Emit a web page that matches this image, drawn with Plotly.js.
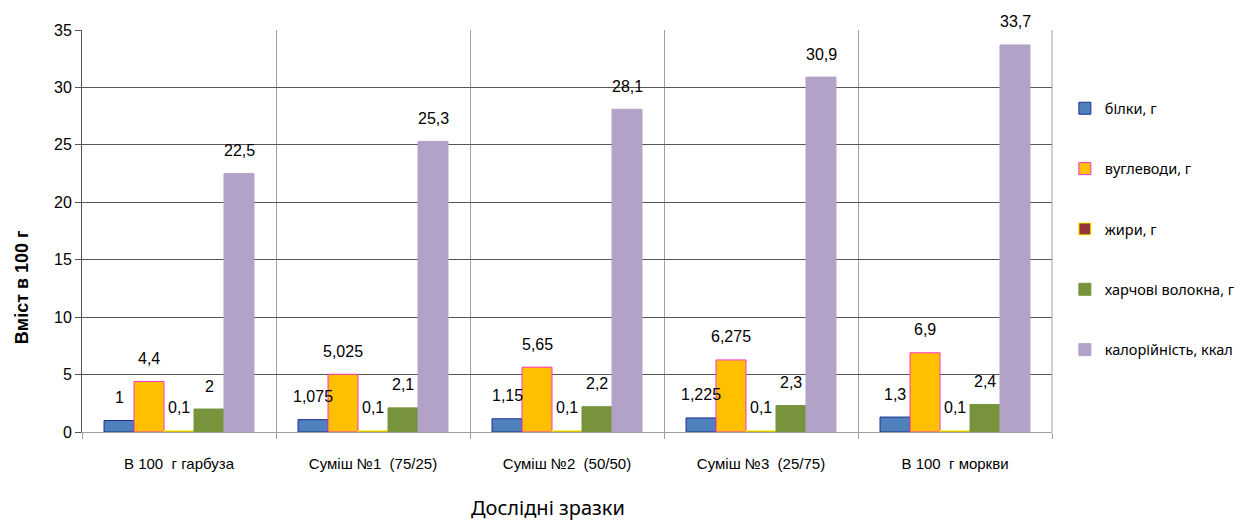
<!DOCTYPE html>
<html><head><meta charset="utf-8">
<script src="https://cdn.plot.ly/plotly-3.0.1.min.js"></script>
<style>html,body{margin:0;padding:0;background:#fff}</style>
</head><body>
<div id="chart" style="width:1244px;height:522px"></div>
<script>
const categories = ["В 100  г гарбуза", "Суміш №1  (75/25)", "Суміш №2  (50/50)", "Суміш №3  (25/75)", "В 100  г моркви"];
const seriesNames = ["білки, г", "вуглеводи, г", "жири, г", "харчові волокна, г", "калорійність, ккал"];
const bilky = [1, 1.075, 1.15, 1.225, 1.3];
const vuhlevody = [4.4, 5.025, 5.65, 6.275, 6.9];
const zhyry = [0.1, 0.1, 0.1, 0.1, 0.1];
const volokna = [2, 2.1, 2.2, 2.3, 2.4];
const kaloriinist = [22.5, 25.3, 28.1, 30.9, 33.7];
const yTicks = [0, 5, 10, 15, 20, 25, 30, 35];
const yTitle = "Вміст в 100 г";
const xTitle = "Дослідні зразки";

const seriesValues = [bilky, vuhlevody, zhyry, volokna, kaloriinist];
const fills = ["#4F81BD", "#FFC000", "#953735", "#77933C", "#B3A2C7"];
const borders = ["#1F2F8F", "#FF33CC", "#FFFF00", "#77933C", "#B3A2C7"];
const font = "Liberation Sans, Arial, sans-serif";

const traces = seriesValues.map((vals, i) => ({
  type: "bar", name: seriesNames[i], x: categories, y: vals,
  legendgroup: "g" + i,
  marker: {color: fills[i], line: {color: borders[i], width: 1}},
  hoverinfo: "none"
}));

const fmt = v => String(v).replace(".", ",");
const annotations = [];
const barPx = 30;
seriesValues.forEach((vals, i) => {
  vals.forEach((v, j) => {
    annotations.push({
      x: categories[j], y: v, xref: "x", yref: "y", text: fmt(v), showarrow: false,
      xshift: (i - 2) * barPx, yshift: 23, font: {family: font, size: 16, color: "#000"}
    });
  });
});
annotations.push({
  text: "<b>" + yTitle + "</b>", textangle: -90, xref: "paper", yref: "paper",
  x: -0.062, y: 0.36, xanchor: "center", yanchor: "middle", showarrow: false,
  font: {family: "Liberation Sans, Arial, sans-serif", size: 18, color: "#000"}
});
annotations.push({
  text: xTitle, xref: "paper", yref: "paper", x: 0.4805, y: -0.187,
  xanchor: "center", yanchor: "middle", showarrow: false,
  font: {family: "Noto Sans, sans-serif", size: 20, color: "#000"}
});

const layout = {
  width: 1244, height: 522,
  margin: {l: 82, r: 192, t: 30, b: 90},
  paper_bgcolor: "#fff", plot_bgcolor: "#fff",
  barmode: "group", bargap: 0.227, bargroupgap: 0,
  showlegend: true,
  legend: {xref: "container", yref: "paper", x: 0.856, y: 0.845, yanchor: "top", xanchor: "left",
           traceorder: "grouped", tracegroupgap: 38.5,
           font: {family: "Noto Sans, sans-serif", size: 14.5, color: "#000"}, itemwidth: 30},
  xaxis: {type: "category", tickson: "boundaries", showgrid: true, gridcolor: "#A0A0A0", gridwidth: 1,
          ticks: "outside", ticklen: 6, tickcolor: "#A0A0A0", showline: true, linecolor: "#A0A0A0", mirror: false,
          ticklabelstandoff: 18,
          tickfont: {family: font, size: 15, color: "#000"}},
  yaxis: {range: [0, 35], tickvals: yTicks, showgrid: true, gridcolor: "#555", gridwidth: 1,
          ticks: "outside", ticklen: 6, tickcolor: "#555", showline: true, linecolor: "#555", zeroline: false,
          tickfont: {family: font, size: 16, color: "#000"}},
  annotations: annotations,
  shapes: [{type: "line", xref: "paper", yref: "paper", x0: 1, x1: 1, y0: 0, y1: 1, line: {color: "#A0A0A0", width: 1}}]
};
Plotly.newPlot("chart", traces, layout, {displayModeBar: false, staticPlot: true});
</script>
</body></html>
